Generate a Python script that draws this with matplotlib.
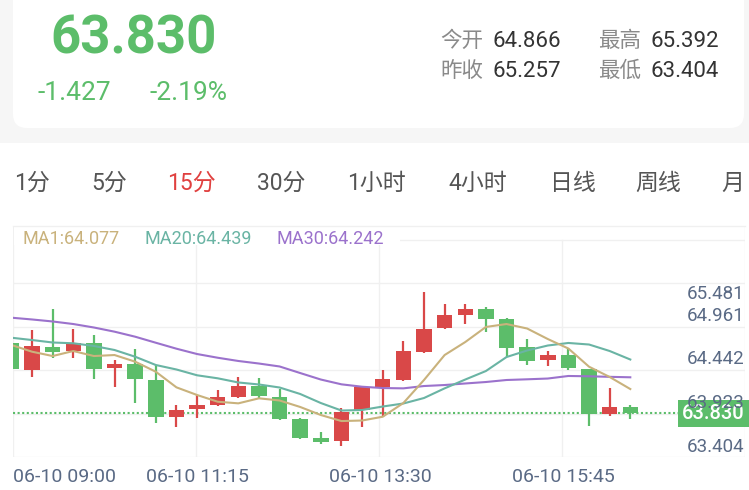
import matplotlib
matplotlib.use('Agg')
import matplotlib.pyplot as plt
import matplotlib.transforms as mtransforms
from matplotlib.patches import FancyBboxPatch, Rectangle
from matplotlib.lines import Line2D

plt.rcParams['font.family'] = ['Roboto', 'Noto Sans CJK SC', 'DejaVu Sans']

# ---------------- data ----------------
price_text = "63.830"
change_text = "-1.427"
change_pct_text = "-2.19%"
stat_labels = ["今开", "昨收", "最高", "最低"]
stat_values = ["64.866", "65.257", "65.392", "63.404"]
tabs = ["1分", "5分", "15分", "30分", "1小时", "4小时", "日线", "周线", "月"]
active_tab = "15分"
ma_legend = ["MA1:64.077", "MA20:64.439", "MA30:64.242"]
y_tick_labels = ["65.481", "64.961", "64.442", "63.923", "63.404"]
x_tick_labels = ["06-10 09:00", "06-10 11:15", "06-10 13:30", "06-10 15:45"]

opens = [64.733, 64.391, 64.689, 64.633, 64.733, 64.417, 64.465, 64.258, 63.783, 63.879,
         63.931, 64.034, 64.180, 64.042, 63.749, 63.504, 63.473, 63.870, 64.163, 64.258,
         64.624, 64.927, 65.095, 65.172, 65.043, 64.681, 64.517, 64.581, 64.400, 63.818,
         63.905]
highs = [64.740, 64.901, 65.172, 64.914, 64.836, 64.517, 64.663, 64.456, 63.938, 64.068,
         64.128, 64.293, 64.280, 64.141, 63.766, 63.581, 63.899, 64.170, 64.387, 64.766,
         65.392, 65.241, 65.237, 65.198, 65.056, 64.784, 64.633, 64.676, 64.405, 64.158,
         63.940]
lows = [64.390, 64.301, 64.539, 64.539, 64.275, 64.171, 63.964, 63.705, 63.646, 63.766,
        63.921, 64.025, 64.021, 63.740, 63.491, 63.426, 63.404, 63.654, 63.775, 64.245,
        64.603, 64.918, 64.982, 64.883, 64.559, 64.456, 64.439, 64.387, 63.667, 63.796,
        63.760]
closes = [64.396, 64.694, 64.616, 64.733, 64.404, 64.461, 64.267, 63.783, 63.866, 63.934,
          64.034, 64.180, 64.051, 63.753, 63.504, 63.460, 63.848, 64.163, 64.267, 64.633,
          64.918, 65.095, 65.172, 65.043, 64.676, 64.507, 64.581, 64.409, 63.814, 63.912,
          63.830]
ma1 = [64.711, 64.624, 64.568, 64.633, 64.568, 64.581, 64.495, 64.365, 64.163, 64.064,
       63.977, 63.956, 64.021, 63.993, 63.909, 63.805, 63.727, 63.734, 63.783, 63.960,
       64.258, 64.581, 64.749, 64.944, 64.982, 64.924, 64.788, 64.665, 64.430, 64.297,
       64.141]
ma20 = [64.805, 64.775, 64.743, 64.733, 64.698, 64.646, 64.559, 64.452, 64.394, 64.319,
        64.280, 64.226, 64.200, 64.161, 64.077, 63.960, 63.863, 63.870, 63.915, 63.954,
        64.025, 64.150, 64.264, 64.374, 64.555, 64.640, 64.704, 64.737, 64.717, 64.633,
        64.523]
ma30 = [65.064, 65.041, 65.015, 64.982, 64.937, 64.883, 64.818, 64.740, 64.663, 64.594,
        64.546, 64.504, 64.471, 64.433, 64.348, 64.264, 64.202, 64.171, 64.154, 64.150,
        64.180, 64.193, 64.213, 64.232, 64.258, 64.267, 64.277, 64.310, 64.306, 64.299,
        64.293]

# ---------------- style ----------------
GREEN = '#5cbd6a'
RED = '#d94848'
C_MA1 = '#c9b27c'
C_MA20 = '#6ab4a4'
C_MA30 = '#9b72cc'
GRID = '#f0f0f0'
AXIS_TXT = '#5a6a85'

W, H = 749, 490
fig = plt.figure(figsize=(W / 100, H / 100), dpi=100)
fig.patch.set_facecolor('white')
PX = mtransforms.IdentityTransform()


def fx(x):
    return x / W


def fy(y):
    return 1 - y / H


# header background + card
fig.patches.append(Rectangle((0, H - 143), W, 143, transform=PX, fc='#f6f6f6', ec='none', zorder=0))
fig.patches.append(FancyBboxPatch((13, H - 128), 731, 170, boxstyle="round,pad=0,rounding_size=14",
                                  transform=PX, fc='white', ec='none', zorder=0.5))

fig.text(fx(50), fy(53.5), price_text, color=GREEN, fontsize=38, fontweight='bold', va='baseline')
fig.text(fx(37), fy(100), change_text, color=GREEN, fontsize=19, va='baseline')
fig.text(fx(150), fy(100), change_pct_text, color=GREEN, fontsize=19, va='baseline')

stat_pos = [(440, 493, 46.7), (440, 493, 77.3), (598, 650, 46.7), (598, 650, 77.3)]
for (lx, vx, by), lab, val in zip(stat_pos, stat_labels, stat_values):
    fig.text(fx(lx), fy(by), lab, color='#8a8a8a', fontsize=15.5, va='baseline')
    fig.text(fx(vx), fy(by), val, color='#333333', fontsize=16, va='baseline')

tab_x = [14, 91, 167, 257, 347, 448, 550, 635, 721]
for tx, t in zip(tab_x, tabs):
    fig.text(fx(tx), fy(190), t, color=('#e0403f' if t == active_tab else '#555555'),
             fontsize=16.5, va='baseline')

# ---------------- chart ----------------
ax_top, ax_bot, ax_left, ax_right = 226, 457, 13, 745
ax = fig.add_axes([fx(ax_left), fy(ax_bot), (ax_right - ax_left) / W, (ax_bot - ax_top) / H])
ax.set_facecolor('none')
for s in ax.spines.values():
    s.set_visible(False)
ax.set_xticks([])
ax.set_yticks([])
ax.set_xlim(0.078, 35.56)
ax.set_ylim(63.262, 66.250)

grid_top = (ax_bot - 240) / (ax_bot - ax_top)
for k in range(6):
    f = grid_top * k / 5
    ax.plot([0, 1], [f, f], transform=ax.transAxes, color=GRID, lw=1, zorder=0)
for k in range(5):
    f = k / 4
    ax.plot([f, f], [0, grid_top if 0 < k < 4 else 1], transform=ax.transAxes, color=GRID, lw=1, zorder=0)
fig.lines.append(Line2D([ax_left, ax_right], [H - ax_top, H - ax_top], transform=PX, color=GRID, lw=1, zorder=3))

idx = list(range(len(closes)))
for i, o, h, l, c in zip(idx, opens, highs, lows, closes):
    col = RED if c >= o else GREEN
    ax.vlines(i, l, h, color=col, lw=1.6, zorder=2)
    ax.bar(i, max(abs(c - o), 0.012), bottom=min(o, c), width=0.75, color=col, zorder=3)

ax.plot(idx, ma30, color=C_MA30, lw=1.5, zorder=4)
ax.plot(idx, ma20, color=C_MA20, lw=1.5, zorder=4)
ax.plot(idx, ma1, color=C_MA1, lw=1.5, zorder=4)

ax.axhline(closes[-1], color=GREEN, lw=1.5, ls=(0, (1, 1.2)), zorder=1)

# legend bg and texts
fig.patches.append(Rectangle((14, H - 245), 386, 18.5, transform=PX, fc='white', ec='none', zorder=2))
for lx, t, c in zip([23, 144, 277], ma_legend, [C_MA1, C_MA20, C_MA30]):
    fig.text(fx(lx), fy(244), t, color=c, fontsize=13, va='baseline', zorder=4)

# y-axis labels
y_base = [299.3, 321, 364, 408, 451.7]
for yb, t in zip(y_base, y_tick_labels):
    fig.text(fx(744), fy(yb), t, color=AXIS_TXT, fontsize=13.5, ha='right', va='baseline', zorder=3)

trans = mtransforms.blended_transform_factory(ax.transAxes, ax.transData)
ax.text(0.9995, closes[-1], f"{closes[-1]:.3f}", transform=trans, ha='right', va='center', color='white',
        fontsize=14.5, fontweight='medium', zorder=10, clip_on=False,
        bbox=dict(boxstyle='square,pad=0.2', fc=GREEN, ec='none'))

# x-axis labels
x_pos = [(13, 'left'), (197, 'center'), (380, 'center'), (563, 'center')]
for (px, ha), t in zip(x_pos, x_tick_labels):
    fig.text(fx(px), fy(482), t, color=AXIS_TXT, fontsize=14, ha=ha, va='baseline')

fig.savefig('out.png', dpi=100, facecolor='white')
